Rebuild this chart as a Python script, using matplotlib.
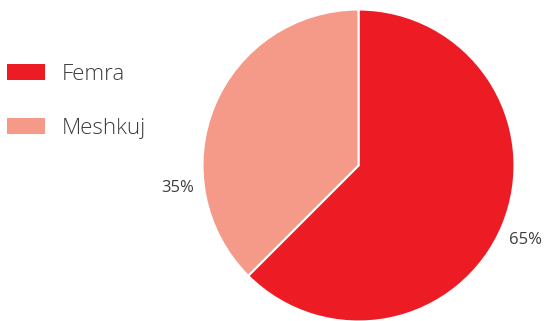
import matplotlib.pyplot as plt

# data (slice sizes as drawn; printed labels as shown)
labels = ["Femra", "Meshkuj"]
values = [62.5, 37.5]
pct_labels = ["65%", "35%"]
colors = ["#ED1C24", "#F59A88"]

plt.rcParams["font.family"] = ["Open Sans", "DejaVu Sans"]

fig = plt.figure(figsize=(5.44, 3.21), dpi=100)
W, H = 544, 321
cx, cy, r = 358.5, 165.5, 156
ax = fig.add_axes([(cx - r) / W, (H - cy - r) / H, 2 * r / W, 2 * r / H])

wedges, _ = ax.pie(values, colors=colors, startangle=90, counterclock=False,
                   radius=1, wedgeprops=dict(edgecolor="white", linewidth=1.5))
ax.set_xlim(-1, 1)
ax.set_ylim(-1, 1)
ax.set_aspect("equal")
ax.axis("off")

# percent labels outside the pie
pos = [(1.07, -0.48), (-1.156, -0.145)]
for txt, (x, y) in zip(pct_labels, pos):
    ax.text(x, y, txt, ha="center", va="center", fontsize=12,
            color="#3d3d3d", clip_on=False)

leg = fig.legend(wedges, labels, loc="upper left", bbox_to_anchor=(0.0, 0.822),
                 frameon=False, fontsize=16, handlelength=1.71, handleheight=0.72,
                 handletextpad=0.77, labelspacing=1.49, borderaxespad=0,
                 borderpad=0.3)
for t in leg.get_texts():
    t.set_color("#3d3d3d")
    t.set_fontweight("light")
for h in leg.legend_handles:
    h.set_edgecolor("none")

fig.savefig("out.png", dpi=100)
